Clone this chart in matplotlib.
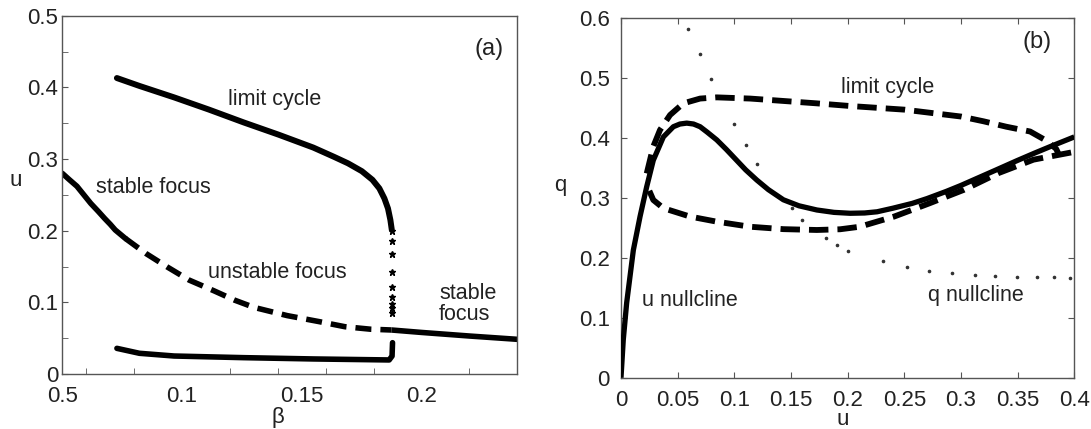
import matplotlib
matplotlib.use("Agg")
import matplotlib.pyplot as plt

plt.rcParams['font.family'] = ['Liberation Sans', 'DejaVu Sans']
plt.rcParams['lines.scale_dashes'] = False

# ---------------- panel (a) data : beta vs u ----------------
beta_stable1 = [0.050, 0.053, 0.0561, 0.059, 0.0619, 0.065, 0.0677, 0.070, 0.0721, 0.0764]
u_stable1 = [0.280, 0.271, 0.262, 0.250, 0.238, 0.227, 0.217, 0.209, 0.201, 0.189]

beta_unstable = [0.0764, 0.085, 0.094, 0.103, 0.1134, 0.122, 0.130, 0.1439, 0.1574, 0.168, 0.1787, 0.1875]
u_unstable = [0.189, 0.168, 0.149, 0.131, 0.116, 0.103, 0.093, 0.0815, 0.073, 0.066, 0.0625, 0.0614]

beta_stable2 = [0.1875, 0.200, 0.220, 0.240]
u_stable2 = [0.0614, 0.058, 0.053, 0.0484]

beta_lc_up = [0.0728, 0.0822, 0.0967, 0.1112, 0.1258, 0.1403, 0.1548, 0.1635, 0.1693,
              0.1751, 0.1795, 0.1824, 0.1845, 0.1860, 0.1870, 0.1876]
u_lc_up = [0.413, 0.402, 0.386, 0.369, 0.351, 0.334, 0.316, 0.303, 0.294,
           0.283, 0.271, 0.259, 0.245, 0.231, 0.215, 0.201]

beta_lc_dots = [0.1877, 0.1877, 0.1877, 0.1877, 0.1877, 0.1877, 0.1877, 0.1877, 0.1877]
u_lc_dots = [0.199, 0.185, 0.168, 0.143, 0.122, 0.108, 0.098, 0.092, 0.085]

beta_lc_low = [0.0728, 0.0822, 0.0967, 0.1258, 0.1548, 0.1865, 0.1877, 0.1879]
u_lc_low = [0.0358, 0.0289, 0.0251, 0.0228, 0.0210, 0.0196, 0.025, 0.0437]

xticks_a = [0.05, 0.10, 0.15, 0.20]
xticklabels_a = ['0.5', '0.1', '0.15', '0.2']
xminor_a = [0.06, 0.08, 0.10, 0.12, 0.14, 0.16, 0.18, 0.20, 0.22]
yticks_a = [0, 0.1, 0.2, 0.3, 0.4, 0.5]
yticklabels_a = ['0', '0.1', '0.2', '0.3', '0.4', '0.5']
yminor_a = [0.05, 0.15, 0.25, 0.35, 0.45]

# ---------------- panel (b) data : u vs q ----------------
u_null_u = [0.0, 0.002, 0.005, 0.0109, 0.0168, 0.0227, 0.0285, 0.0374, 0.0462, 0.052, 0.058,
            0.064, 0.0698, 0.076, 0.0845, 0.093, 0.102, 0.110, 0.1198, 0.130, 0.1433, 0.157,
            0.1728, 0.188, 0.2022, 0.215, 0.226, 0.240, 0.257, 0.270, 0.287, 0.300,
            0.318, 0.330, 0.349, 0.365, 0.379, 0.400]
u_null_q = [0.0, 0.063, 0.125, 0.213, 0.269, 0.319, 0.363, 0.402, 0.419, 0.4235, 0.425,
            0.4235, 0.419, 0.410, 0.397, 0.381, 0.363, 0.347, 0.330, 0.314, 0.297, 0.287,
            0.280, 0.276, 0.2745, 0.275, 0.277, 0.283, 0.291, 0.299, 0.311, 0.321,
            0.336, 0.346, 0.362, 0.375, 0.386, 0.402]

lc_up_u = [0.0227, 0.0285, 0.0344, 0.0433, 0.055, 0.0698, 0.0845, 0.114, 0.1433, 0.1728,
           0.202, 0.250, 0.300, 0.320, 0.340, 0.361, 0.376, 0.384, 0.387]
lc_up_q = [0.341, 0.386, 0.4135, 0.4386, 0.458, 0.466, 0.468, 0.466, 0.462, 0.458,
           0.4536, 0.4475, 0.436, 0.428, 0.419, 0.411, 0.395, 0.382, 0.370]

lc_low_u = [0.025, 0.0285, 0.0374, 0.0609, 0.0845, 0.114, 0.1433, 0.1728, 0.1934,
            0.2106, 0.241, 0.272, 0.3025, 0.333, 0.364, 0.400]
lc_low_q = [0.312, 0.2967, 0.283, 0.269, 0.2605, 0.252, 0.248, 0.2466, 0.2478,
            0.252, 0.269, 0.291, 0.3136, 0.3415, 0.364, 0.377]

q_null_u = [0.0594, 0.0698, 0.0795, 0.100, 0.110, 0.1198, 0.1507, 0.160, 0.181, 0.191,
            0.200, 0.231, 0.252, 0.272, 0.292, 0.312, 0.330, 0.349, 0.367, 0.382, 0.396]
q_null_q = [0.5816, 0.540, 0.4987, 0.423, 0.388, 0.357, 0.283, 0.263, 0.234, 0.2215,
            0.212, 0.194, 0.185, 0.1786, 0.174, 0.171, 0.170, 0.1685, 0.1685, 0.1685, 0.167]

xticks_b = [0, 0.05, 0.1, 0.15, 0.2, 0.25, 0.3, 0.35, 0.4]
xticklabels_b = ['0', '0.05', '0.1', '0.15', '0.2', '0.25', '0.3', '0.35', '0.4']
yticks_b = [0, 0.1, 0.2, 0.3, 0.4, 0.5, 0.6]
yticklabels_b = ['0', '0.1', '0.2', '0.3', '0.4', '0.5', '0.6']

# ---------------- figure ----------------
W, H = 1091, 429
fig = plt.figure(figsize=(W / 100, H / 100), dpi=100)
axA = fig.add_axes([62.3 / W, (H - 374) / H, 455 / W, 358.3 / H])
axB = fig.add_axes([621 / W, (H - 377.7) / H, 453.3 / W, 359.4 / H])

TXT = '#222222'
SP = '#555555'
FS = 15.5
TFS = 16

# panel (a)
axA.plot(beta_stable1, u_stable1, color='k', lw=4, solid_capstyle='round', solid_joinstyle='round')
axA.plot(beta_unstable, u_unstable, color='k', lw=4, dashes=(11.5, 6.5), dash_capstyle='butt')
axA.plot(beta_stable2, u_stable2, color='k', lw=4, solid_capstyle='butt')
axA.plot(beta_lc_up, u_lc_up, color='k', lw=4.3, solid_capstyle='round', solid_joinstyle='round')
axA.plot(beta_lc_dots, u_lc_dots, ls='none', marker='*', ms=4.5, color='k')
axA.plot(beta_lc_low, u_lc_low, color='k', lw=4, solid_capstyle='round', solid_joinstyle='round')

axA.set_xlim(0.05, 0.24)
axA.set_ylim(0, 0.5)
axA.set_xticks(xticks_a)
axA.set_xticklabels(xticklabels_a)
axA.set_xticks(xminor_a, minor=True)
axA.set_yticks(yticks_a)
axA.set_yticklabels(yticklabels_a)
axA.set_yticks(yminor_a, minor=True)
axA.tick_params(axis='x', which='major', length=0, pad=9, labelsize=TFS, colors=TXT)
axA.tick_params(axis='x', which='minor', length=4, direction='in', color=SP)
axA.tick_params(axis='y', which='both', length=4, direction='in', color=SP, pad=3,
                labelsize=TFS, labelcolor=TXT)
for s in axA.spines.values():
    s.set_color(SP)
    s.set_linewidth(1.0)
axA.set_xlabel('β', fontsize=TFS, color=TXT)
axA.xaxis.set_label_coords(0.473, -0.093)
axA.set_ylabel('u', fontsize=TFS, color=TXT, rotation=0)
axA.yaxis.set_label_coords(-0.103, 0.51)

axA.text(0.1388, 0.383, 'limit cycle', fontsize=FS, color=TXT, ha='center', va='center')
axA.text(0.0882, 0.260, 'stable focus', fontsize=FS, color=TXT, ha='center', va='center')
axA.text(0.1397, 0.1415, 'unstable focus', fontsize=FS, color=TXT, ha='center', va='center')
axA.text(0.2073, 0.0978, 'stable\nfocus', fontsize=FS, color=TXT, ha='left', va='center',
         linespacing=1.05)
axA.text(0.2284, 0.454, '(a)', fontsize=17, color=TXT, ha='center', va='center')

# panel (b)
axB.plot(q_null_u, q_null_q, ls='none', marker='o', ms=1.6, color='#333333', zorder=1)
axB.plot(u_null_u, u_null_q, color='k', lw=3.8, solid_capstyle='butt', solid_joinstyle='round',
         zorder=3)
axB.plot(lc_up_u, lc_up_q, color='k', lw=4.2, dashes=(14, 6.5), dash_capstyle='butt', zorder=2)
axB.plot(lc_low_u, lc_low_q, color='k', lw=4.2, dashes=(14, 6.5), dash_capstyle='butt', zorder=2)

axB.set_xlim(0, 0.4)
axB.set_ylim(0, 0.6)
axB.set_xticks(xticks_b)
axB.set_xticklabels(xticklabels_b)
axB.set_yticks(yticks_b)
axB.set_yticklabels(yticklabels_b)
axB.tick_params(axis='both', which='major', length=4, direction='in', color=SP,
                top=True, right=True, labelsize=TFS, labelcolor=TXT)
axB.tick_params(axis='x', pad=9)
axB.tick_params(axis='y', pad=8)
for s in axB.spines.values():
    s.set_color(SP)
    s.set_linewidth(1.0)
axB.set_xlabel('u', fontsize=TFS, color=TXT)
axB.xaxis.set_label_coords(0.49, -0.088)
axB.set_ylabel('q', fontsize=TFS, color=TXT, rotation=0)
axB.yaxis.set_label_coords(-0.135, 0.505)

axB.text(0.235, 0.484, 'limit cycle', fontsize=FS, color=TXT, ha='center', va='center')
axB.text(0.0604, 0.1295, 'u nullcline', fontsize=FS, color=TXT, ha='center', va='center')
axB.text(0.313, 0.138, 'q nullcline', fontsize=FS, color=TXT, ha='center', va='center')
axB.text(0.367, 0.560, '(b)', fontsize=17, color=TXT, ha='center', va='center')

fig.savefig('out.png', dpi=100)
